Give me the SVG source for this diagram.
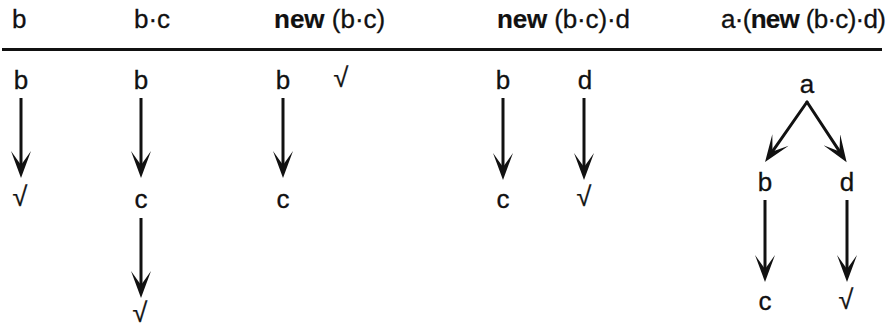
<svg xmlns="http://www.w3.org/2000/svg" width="892" height="328" viewBox="0 0 892 328">
<style>
text{font-family:"Liberation Sans",Arial,Helvetica,sans-serif;font-size:26px;fill:#111;stroke:#111;stroke-width:0.3}
.kw{font-weight:bold;stroke-width:0.2}
.n{text-anchor:middle}
.r{font-size:27px;stroke-width:0.3}
.c{stroke:#111;stroke-width:3;fill:none;marker-end:url(#ah)}
</style>
<defs>
<marker id="ah" markerUnits="userSpaceOnUse" viewBox="-15 -10 29 20" markerWidth="29" markerHeight="20" refX="0" refY="0" orient="auto">
<path d="M13,0 L-14,-10 L0,0 L-14,10 Z" fill="#111"/>
</marker>
</defs>
<rect width="892" height="328" fill="#fff"/>
<g id="headers">
<text x="12" y="28">b</text>
<text x="134" y="28">b·c</text>
<text x="274" y="28"><tspan class="kw">new</tspan> (b·c)</text>
<text x="497" y="28" textLength="133" lengthAdjust="spacing"><tspan class="kw">new</tspan> (b·c)·d</text>
<text x="721" y="28" textLength="165" lengthAdjust="spacing">a·(<tspan class="kw">new</tspan> (b·c)·d)</text>
</g>
<line id="rule" x1="2" y1="49.5" x2="882" y2="49.5" stroke="#111" stroke-width="3"/>
<g id="connectors">
<path class="c" d="M21,98 V165"/>
<path class="c" d="M141,98 V165"/>
<path class="c" d="M141,218 V285"/>
<path class="c" d="M283,98 V165"/>
<path class="c" d="M503,98 V167"/>
<path class="c" d="M584,98 V167"/>
<path class="c" d="M807,102 L772.5,151.4" stroke-linecap="round"/>
<path class="c" d="M807,102 L839.5,151.4" stroke-linecap="round"/>
<path class="c" d="M765,200 V269"/>
<path class="c" d="M847,200 V269"/>
</g>
<g id="col1">
<text class="n" x="21" y="89">b</text>
<text class="n r" x="20" y="206">√</text>
</g>
<g id="col2">
<text class="n" x="141" y="89">b</text>
<text class="n" x="141" y="208">c</text>
<text class="n r" x="140" y="322">√</text>
</g>
<g id="col3">
<text class="n" x="283" y="89">b</text>
<text class="n r" x="341" y="87">√</text>
<text class="n" x="283" y="208">c</text>
</g>
<g id="col4">
<text class="n" x="503" y="89">b</text>
<text class="n" x="585" y="89">d</text>
<text class="n" x="503" y="208">c</text>
<text class="n r" x="584" y="206">√</text>
</g>
<g id="col5">
<text class="n" x="807" y="93">a</text>
<text class="n" x="765" y="191">b</text>
<text class="n" x="847" y="191">d</text>
<text class="n" x="765" y="310">c</text>
<text class="n r" x="846" y="309">√</text>
</g>
</svg>
